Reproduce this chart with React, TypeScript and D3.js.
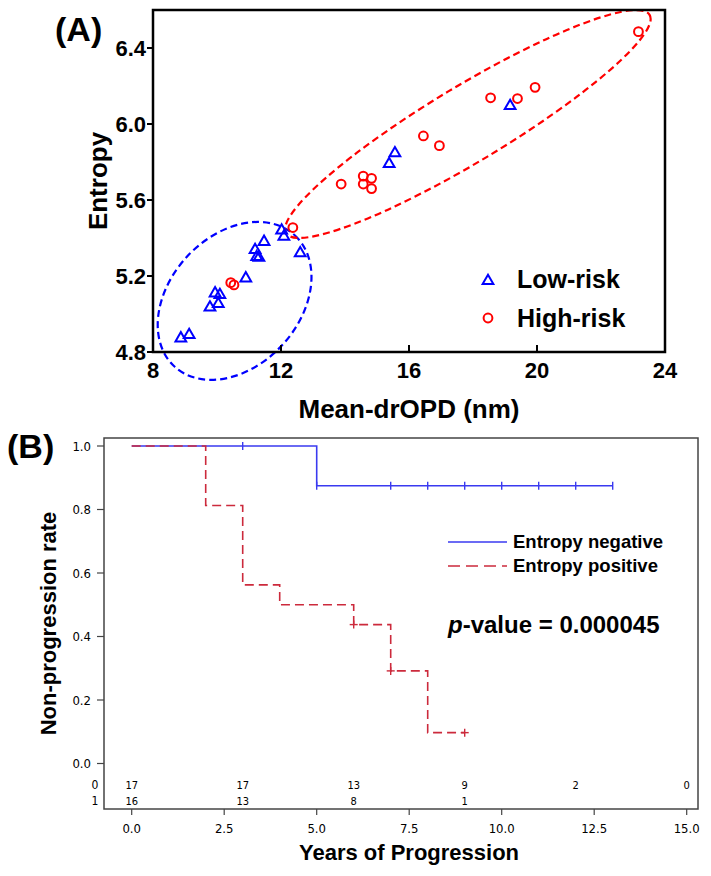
import React from "react";
import * as d3 from "d3";

// ---------- Panel A data ----------
const lowRiskX = [8.87, 9.13, 9.78, 9.94, 10.09, 10.04, 10.9, 11.19, 11.24, 11.31, 11.47, 12.02, 12.09, 12.6, 15.38, 15.56, 19.16];
const lowRiskY = [4.872, 4.89, 5.035, 5.109, 5.1, 5.053, 5.188, 5.337, 5.3, 5.296, 5.38, 5.44, 5.407, 5.32, 5.79, 5.846, 6.095];
const highRiskX = [10.43, 10.53, 12.37, 13.88, 14.57, 14.57, 14.83, 14.83, 16.45, 16.95, 18.55, 19.39, 19.94, 23.17];
const highRiskY = [5.165, 5.153, 5.455, 5.684, 5.726, 5.684, 5.714, 5.66, 5.937, 5.886, 6.138, 6.134, 6.193, 6.486];
const xTicksA = [8, 12, 16, 20, 24];
const yTicksA = [4.8, 5.2, 5.6, 6.0, 6.4];
const legendA = ["Low-risk", "High-risk"];
// cluster ellipse centres (data units)
const ellipseCenterX = [10.55, 17.84];
const ellipseCenterY = [5.069, 6.0];

// ---------- Panel B data ----------
const negTimes = [0, 5, 13];
const negSurv = [1.0, 0.875, 0.875];
const negCensorT = [3, 5, 7, 8, 9, 10, 11, 12, 13];
const negCensorS = [1.0, 0.875, 0.875, 0.875, 0.875, 0.875, 0.875, 0.875, 0.875];
const posTimes = [0, 2, 3, 4, 6, 7, 8, 9];
const posSurv = [1.0, 0.8125, 0.5625, 0.5, 0.4375, 0.2917, 0.0972, 0.0972];
const posCensorT = [6, 7, 9];
const posCensorS = [0.4375, 0.2917, 0.0972];
const xTicksB = [0, 2.5, 5, 7.5, 10, 12.5, 15];
const yTicksB = [0, 0.2, 0.4, 0.6, 0.8, 1.0];
const riskTimes = [0, 3, 6, 9, 12, 15];
const riskRow0 = ["17", "17", "13", "9", "2", "0"];
const riskRow1 = ["16", "13", "8", "1", "", ""];
const legendB = ["Entropy negative", "Entropy positive"];

const BOLD = "'Liberation Sans', Arial, Helvetica, sans-serif";
const NARROW = "'Liberation Sans Narrow', 'Arial Narrow', 'DejaVu Sans Condensed', sans-serif";

export default function App() {
  // Panel A scales
  const xA = d3.scaleLinear().domain([8, 24]).range([153, 665]);
  const yA = d3.scaleLinear().domain([4.8, 6.6]).range([352, 10]);
  // Panel B scales
  const xB = d3.scaleLinear().domain([0, 15]).range([131.7, 686.7]);
  const yB = d3.scaleLinear().domain([0, 1]).range([763.5, 446]);

  const tri = d3.symbol().type(d3.symbolTriangle).size(50)() as string;
  const stepLine = d3
    .line<[number, number]>()
    .x((d) => xB(d[0]))
    .y((d) => yB(d[1]))
    .curve(d3.curveStepAfter);
  const negPts: [number, number][] = negTimes.map((t, i) => [t, negSurv[i]]);
  const posPts: [number, number][] = posTimes.map((t, i) => [t, posSurv[i]]);

  const blueLine = "#3a3af0";
  const redLine = "#cc2a3c";

  const ell = [
    { rx: 89, ry: 65, rot: -47.5, color: "#0000ff" },
    { rx: 212, ry: 38, rot: -31, color: "#ff0000" },
  ];

  return (
    <svg
      width={711}
      height={876}
      style={{ position: "absolute", left: 0, top: 0, background: "#fff" }}
      xmlns="http://www.w3.org/2000/svg"
    >
      <rect x={0} y={0} width={711} height={876} fill="#fff" />
      {/* ================= Panel A ================= */}
      <text x={55} y={41} fontFamily={BOLD} fontWeight="bold" fontSize={34}>
        (A)
      </text>
      {ell.map((e, i) => (
        <ellipse
          key={"e" + i}
          cx={0}
          cy={0}
          rx={e.rx}
          ry={e.ry}
          transform={`translate(${xA(ellipseCenterX[i])},${yA(ellipseCenterY[i])}) rotate(${e.rot})`}
          fill="none"
          stroke={e.color}
          strokeWidth={2.2}
          strokeDasharray="7 4"
        />
      ))}
      <rect x={153} y={10} width={512} height={342} fill="none" stroke="#000" strokeWidth={2.5} />
      {xTicksA.map((t) => (
        <g key={"xa" + t}>
          <line x1={xA(t)} x2={xA(t)} y1={352} y2={345} stroke="#000" strokeWidth={2} />
          <text x={xA(t)} y={378} textAnchor="middle" fontFamily={BOLD} fontWeight="bold" fontSize={22}>
            {t}
          </text>
        </g>
      ))}
      {yTicksA.map((t) => (
        <g key={"ya" + t}>
          <line x1={147} x2={153} y1={yA(t)} y2={yA(t)} stroke="#000" strokeWidth={2} />
          <text
            x={146}
            y={yA(t)}
            textAnchor="end"
            dominantBaseline="central"
            fontFamily={BOLD}
            fontWeight="bold"
            fontSize={22}
          >
            {t.toFixed(1)}
          </text>
        </g>
      ))}
      <text
        transform={`translate(98,${(10 + 352) / 2}) rotate(-90)`}
        textAnchor="middle"
        dominantBaseline="central"
        fontFamily={BOLD}
        fontWeight="bold"
        fontSize={26}
      >
        Entropy
      </text>
      <text x={409} y={418} textAnchor="middle" fontFamily={BOLD} fontWeight="bold" fontSize={26}>
        Mean-drOPD (nm)
      </text>
      {lowRiskX.map((v, i) => (
        <path
          key={"lr" + i}
          d={tri}
          transform={`translate(${xA(v)},${yA(lowRiskY[i])})`}
          fill="none"
          stroke="#0000ff"
          strokeWidth={2}
        />
      ))}
      {highRiskX.map((v, i) => (
        <circle key={"hr" + i} cx={xA(v)} cy={yA(highRiskY[i])} r={4.4} fill="none" stroke="#ff0000" strokeWidth={2} />
      ))}
      <path d={tri} transform="translate(488,281)" fill="none" stroke="#0000ff" strokeWidth={2} />
      <text x={517} y={288} fontFamily={BOLD} fontWeight="bold" fontSize={25}>
        {legendA[0]}
      </text>
      <circle cx={488} cy={318} r={4.4} fill="none" stroke="#ff0000" strokeWidth={2} />
      <text x={517} y={327} fontFamily={BOLD} fontWeight="bold" fontSize={25}>
        {legendA[1]}
      </text>

      {/* ================= Panel B ================= */}
      <text x={7} y={458} fontFamily={BOLD} fontWeight="bold" fontSize={34}>
        (B)
      </text>
      <rect x={104} y={438} width={594} height={371} fill="none" stroke="#444" strokeWidth={1.5} />
      {yTicksB.map((t) => (
        <g key={"yb" + t}>
          <line x1={97} x2={104} y1={yB(t)} y2={yB(t)} stroke="#444" strokeWidth={1.2} />
          <text x={91} y={yB(t)} textAnchor="end" dominantBaseline="central" fontFamily={NARROW} fontSize={13}>
            {t.toFixed(1)}
          </text>
        </g>
      ))}
      {xTicksB.map((t) => (
        <g key={"xb" + t}>
          <line x1={xB(t)} x2={xB(t)} y1={809} y2={815} stroke="#444" strokeWidth={1.2} />
          <text x={xB(t)} y={833} textAnchor="middle" fontFamily={NARROW} fontSize={13}>
            {t.toFixed(1)}
          </text>
        </g>
      ))}
      <text x={95} y={789} textAnchor="middle" fontFamily={NARROW} fontSize={12}>0</text>
      <text x={95} y={805} textAnchor="middle" fontFamily={NARROW} fontSize={12}>1</text>
      {riskTimes.map((t, i) => (
        <g key={"rk" + t}>
          <text x={xB(t)} y={789} textAnchor="middle" fontFamily={NARROW} fontSize={11}>
            {riskRow0[i]}
          </text>
          <text x={xB(t)} y={805} textAnchor="middle" fontFamily={NARROW} fontSize={11}>
            {riskRow1[i]}
          </text>
        </g>
      ))}
      <path d={stepLine(negPts) as string} fill="none" stroke={blueLine} strokeWidth={1.6} />
      {negCensorT.map((t, i) => (
        <line
          key={"nc" + i}
          x1={xB(t)}
          x2={xB(t)}
          y1={yB(negCensorS[i]) - 4}
          y2={yB(negCensorS[i]) + 4}
          stroke={blueLine}
          strokeWidth={1.4}
        />
      ))}
      <path d={stepLine(posPts) as string} fill="none" stroke={redLine} strokeWidth={1.6} strokeDasharray="9 5" />
      {posCensorT.map((t, i) => (
        <g key={"pc" + i} stroke={redLine} strokeWidth={1.4}>
          <line x1={xB(t) - 4} x2={xB(t) + 4} y1={yB(posCensorS[i])} y2={yB(posCensorS[i])} />
          <line x1={xB(t)} x2={xB(t)} y1={yB(posCensorS[i]) - 4} y2={yB(posCensorS[i]) + 4} />
        </g>
      ))}
      <line x1={448} x2={507} y1={542} y2={542} stroke={blueLine} strokeWidth={1.6} />
      <text x={513} y={548} fontFamily={BOLD} fontWeight="bold" fontSize={18.5}>
        {legendB[0]}
      </text>
      <line x1={448} x2={507} y1={566} y2={566} stroke={redLine} strokeWidth={1.6} strokeDasharray="12 6" />
      <text x={513} y={572} fontFamily={BOLD} fontWeight="bold" fontSize={18.5}>
        {legendB[1]}
      </text>
      <text x={448} y={633} fontFamily={BOLD} fontWeight="bold" fontSize={24}>
        <tspan fontStyle="italic">p</tspan>-value = 0.000045
      </text>
      <text
        transform={`translate(48,${(438 + 809) / 2}) rotate(-90)`}
        textAnchor="middle"
        dominantBaseline="central"
        fontFamily={BOLD}
        fontWeight="bold"
        fontSize={22}
      >
        Non-progression rate
      </text>
      <text x={409} y={860} textAnchor="middle" fontFamily={BOLD} fontWeight="bold" fontSize={22}>
        Years of Progression
      </text>
    </svg>
  );
}
